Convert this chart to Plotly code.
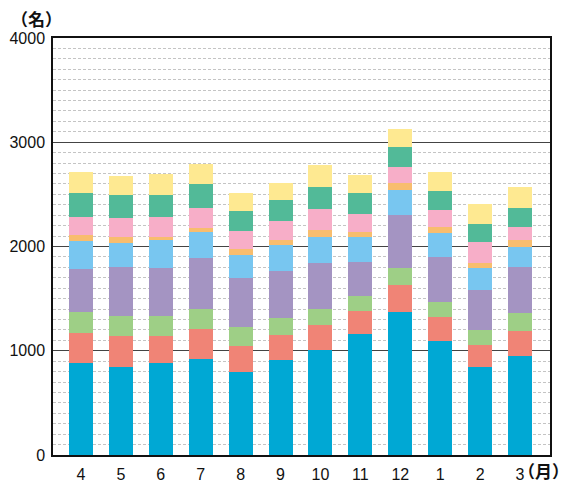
import plotly.graph_objects as go

months = ["4", "5", "6", "7", "8", "9", "10", "11", "12", "1", "2", "3"]

s1 = [885, 840, 885, 923, 798, 913, 1010, 1163, 1375, 1096, 846, 952]
s2 = [288, 304, 259, 289, 250, 241, 240, 222, 260, 231, 212, 240]
s3 = [202, 193, 193, 192, 183, 163, 154, 144, 163, 144, 144, 173]
s4 = [413, 471, 461, 490, 471, 452, 433, 327, 500, 433, 385, 443]
s5 = [263, 230, 260, 241, 221, 241, 250, 231, 240, 221, 211, 192]
s6 = [58, 55, 35, 38, 51, 48, 67, 48, 68, 58, 45, 67]
s7 = [170, 176, 186, 192, 170, 182, 202, 173, 154, 163, 205, 116]
s8 = [231, 221, 211, 231, 193, 202, 211, 202, 192, 183, 164, 182]
s9 = [202, 183, 202, 192, 173, 164, 212, 173, 173, 183, 192, 202]

series = [s1, s2, s3, s4, s5, s6, s7, s8, s9]
colors = ["#00A8D4", "#F08476", "#9ECF86", "#A494C2", "#78C6F0",
          "#F8BD6E", "#F7AEC8", "#52BA98", "#FEE991"]

yticks = [0, 1000, 2000, 3000, 4000]

fig = go.Figure()
for vals, col in zip(series, colors):
    fig.add_trace(go.Bar(x=list(range(len(months))), y=vals, marker_color=col,
                         marker_line_width=0, width=0.6, showlegend=False,
                         hoverinfo="skip"))

fig.update_layout(
    barmode="stack",
    width=565, height=483,
    margin=dict(l=53, r=15, t=38, b=28),
    plot_bgcolor="white", paper_bgcolor="white",
    font=dict(family="Liberation Sans, Arial, sans-serif", size=16, color="#111"),
)
fig.update_xaxes(
    range=[-0.7, 11.75], tickmode="array",
    tickvals=list(range(len(months))), ticktext=months,
    showgrid=False, showline=True, linecolor="#111", linewidth=1.5, mirror=True,
    ticks="", ticklabelstandoff=4, zeroline=False, automargin=False,
)
fig.update_yaxes(
    range=[0, 4000], tickmode="array", tickvals=yticks,
    ticktext=[str(v) for v in yticks],
    showgrid=True, gridcolor="#444", gridwidth=1.2,
    minor=dict(dtick=100, showgrid=True, gridcolor="#c4c4c4", gridwidth=1,
               griddash="3px,2px", ticks=""),
    showline=True, linecolor="#111", linewidth=1.5, mirror=True,
    ticks="", ticklabelstandoff=3, zeroline=False, automargin=False,
)
fig.add_annotation(text="<b>（名）</b>", xref="paper", yref="paper",
                   x=-0.033, y=1.047, xanchor="center", yanchor="middle",
                   showarrow=False, borderpad=0,
                   font=dict(family="Noto Sans CJK JP", size=17, color="#111"))
fig.add_annotation(text="<b>（月）</b>", xref="paper", yref="paper",
                   x=0.933, y=-0.038, xanchor="left", yanchor="middle",
                   showarrow=False, borderpad=0,
                   font=dict(family="Noto Sans CJK JP", size=17, color="#111"))

fig.write_html("out.html", config={"displayModeBar": False})

with open("out.html", "r", encoding="utf-8") as f:
    html = f.read()
html = html.replace("<head>", "<head><style>html,body{margin:0;padding:0;overflow:hidden;}</style>", 1)
with open("out.html", "w", encoding="utf-8") as f:
    f.write(html)
